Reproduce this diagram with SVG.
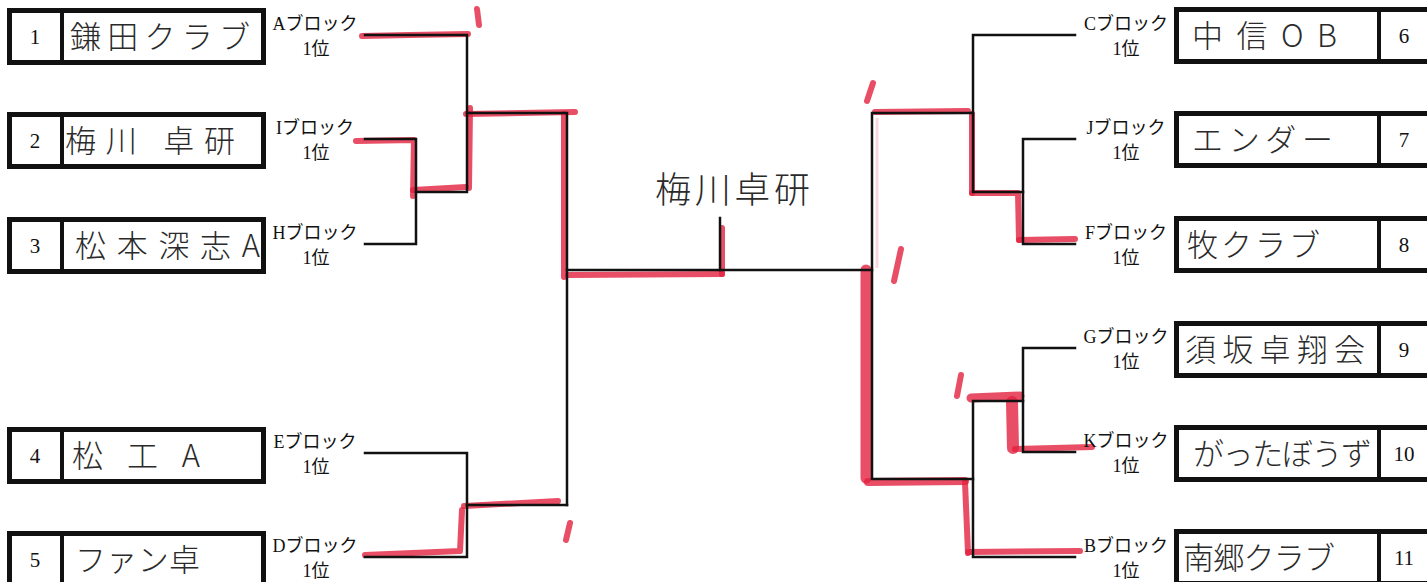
<svg xmlns="http://www.w3.org/2000/svg" width="1427" height="582" viewBox="0 0 1427 582">
<style>
.box{fill:#fff;stroke:#111;stroke-width:5}
.div{stroke:#111;stroke-width:4}
.num{font-family:"Liberation Serif","Noto Sans CJK JP",serif;font-size:21px;fill:#111;text-anchor:middle}
.name{font-family:"Noto Sans CJK JP",sans-serif;font-size:31px;font-weight:300;fill:#2a2a2a}
.lbl{font-family:"Liberation Serif","Noto Sans CJK JP",serif;font-size:18px;fill:#111;text-anchor:middle}
.ln{fill:none;stroke:#111;stroke-width:2.5;stroke-linecap:square}
.red{fill:none;stroke:#e2223e;stroke-opacity:0.8;stroke-width:6;stroke-linecap:round;stroke-linejoin:round}
.pink{fill:none;stroke:#f08aa0;stroke-opacity:0.35;stroke-width:3}
.win{font-family:"Noto Sans CJK JP",sans-serif;font-size:36px;font-weight:300;fill:#2a2a2a}
</style>
<rect width="1427" height="582" fill="#fff"/>

<g id="connectors">
  <path class="red" d="M362,36 L410,35 L468,34"/>
  <path class="red" d="M477,9 L479,25"/>
  <path class="red" d="M356,141 L414,140 L413,196"/>
  <path class="red" d="M413,190 L466,187"/>
  <path class="red" d="M469,188 L470,108"/>
  <path class="red" d="M466,114 L575,112"/>
  <path class="red" d="M564,114 L564,277"/>
  <path class="red" d="M568,275 L722,274"/>
  <path class="red" d="M722,274 L722,228"/>
  <path class="red" d="M365,555 L460,551 L462,510"/>
  <path class="red" d="M464,506 L558,501"/>
  <path class="red" d="M570,523 L566,540"/>

  <path class="red" d="M873,83 L867,101"/>
  <path class="red" d="M875,112 L968,111"/>
  <path class="red" d="M972,114 L972,193"/>
  <path class="red" d="M972,193 L1018,193 L1019,240"/>
  <path class="red" d="M1019,240 L1075,239"/>
  <path class="pink" d="M877,118 L877,268"/>
  <path class="red" d="M901,249 L894,281"/>
  <path class="red" style="stroke-width:11" d="M866,270 L866,478"/>
  <path class="red" style="stroke-width:8" d="M868,482 L965,481"/>
  <path class="red" d="M965,482 L968,553"/>
  <path class="red" d="M968,552 L1080,551"/>
  <path class="red" d="M961,375 L957,396"/>
  <path class="red" style="stroke-width:9" d="M971,398 L1020,396"/>
  <path class="red" style="stroke-width:12" d="M1012,402 L1013,448"/>
  <path class="red" d="M1015,449 L1092,447"/>

  <path class="ln" d="M365,35 H467 V192 H416"/>
  <path class="ln" d="M365,139 H416 V244 H365"/>
  <path class="ln" d="M467,113 H567 V505"/>
  <path class="ln" d="M365,453 H467 V557 H365"/>
  <path class="ln" d="M467,505 H567"/>
  <path class="ln" d="M567,270 H872"/>
  <path class="ln" d="M720,218 V270"/>
  <path class="ln" d="M1075,35 H973 V192 H1023"/>
  <path class="ln" d="M1075,139 H1023 V244 H1075"/>
  <path class="ln" d="M973,113 H872 V479 H973"/>
  <path class="ln" d="M1075,348 H1023 V452 H1075"/>
  <path class="ln" d="M1023,401 H973 V557 H1075"/>
</g>

<g id="winner">
  <text class="win" x="655" y="203" textLength="155" lengthAdjust="spacing">梅川卓研</text>
</g>

<g id="team1">
  <rect class="box" x="9.5" y="10.5" width="254" height="52"/>
  <line class="div" x1="62" y1="10" x2="62" y2="63"/>
  <text class="num" x="35" y="44">1</text>
  <text class="name" x="70" y="48" textLength="180" lengthAdjust="spacing">鎌田クラブ</text>
  <text class="lbl" x="315" y="30">Aブロック</text>
  <text class="lbl" x="316" y="55">1位</text>
</g>
<g id="team2">
  <rect class="box" x="9.5" y="114.5" width="254" height="52"/>
  <line class="div" x1="62" y1="114" x2="62" y2="167"/>
  <text class="num" x="35" y="148">2</text>
  <text class="name" x="65" y="152" textLength="170" lengthAdjust="spacing">梅川 卓研</text>
  <text class="lbl" x="315" y="134">Iブロック</text>
  <text class="lbl" x="316" y="159">1位</text>
</g>
<g id="team3">
  <rect class="box" x="9.5" y="219.5" width="254" height="52"/>
  <line class="div" x1="62" y1="219" x2="62" y2="272"/>
  <text class="num" x="35" y="253">3</text>
  <text class="name" x="75" y="257" textLength="185" lengthAdjust="spacing">松本深志A</text>
  <text class="lbl" x="315" y="239">Hブロック</text>
  <text class="lbl" x="316" y="264">1位</text>
</g>
<g id="team4">
  <rect class="box" x="9.5" y="429.5" width="254" height="52"/>
  <line class="div" x1="62" y1="429" x2="62" y2="482"/>
  <text class="num" x="35" y="463">4</text>
  <text class="name" x="72" y="467" textLength="128" lengthAdjust="spacing">松工A</text>
  <text class="lbl" x="315" y="448">Eブロック</text>
  <text class="lbl" x="316" y="473">1位</text>
</g>
<g id="team5">
  <rect class="box" x="9.5" y="533.5" width="254" height="52"/>
  <line class="div" x1="62" y1="533" x2="62" y2="586"/>
  <text class="num" x="35" y="567">5</text>
  <text class="name" x="75" y="571" textLength="125" lengthAdjust="spacing">ファン卓</text>
  <text class="lbl" x="315" y="552">Dブロック</text>
  <text class="lbl" x="316" y="577">1位</text>
</g>

<g id="team6">
  <rect class="box" x="1176.5" y="9.5" width="260" height="52"/>
  <line class="div" x1="1379" y1="9" x2="1379" y2="62"/>
  <text class="num" x="1404" y="43">6</text>
  <text class="name" x="1192" y="47" textLength="145" lengthAdjust="spacing">中信OB</text>
  <text class="lbl" x="1126" y="30">Cブロック</text>
  <text class="lbl" x="1126" y="55">1位</text>
</g>
<g id="team7">
  <rect class="box" x="1176.5" y="113.5" width="260" height="52"/>
  <line class="div" x1="1379" y1="113" x2="1379" y2="166"/>
  <text class="num" x="1404" y="147">7</text>
  <text class="name" x="1192" y="151" textLength="141" lengthAdjust="spacing">エンダー</text>
  <text class="lbl" x="1126" y="134">Jブロック</text>
  <text class="lbl" x="1126" y="159">1位</text>
</g>
<g id="team8">
  <rect class="box" x="1176.5" y="218.5" width="260" height="52"/>
  <line class="div" x1="1379" y1="218" x2="1379" y2="271"/>
  <text class="num" x="1404" y="252">8</text>
  <text class="name" x="1187" y="256" textLength="133" lengthAdjust="spacing">牧クラブ</text>
  <text class="lbl" x="1126" y="239">Fブロック</text>
  <text class="lbl" x="1126" y="264">1位</text>
</g>
<g id="team9">
  <rect class="box" x="1176.5" y="323.5" width="260" height="52"/>
  <line class="div" x1="1379" y1="323" x2="1379" y2="376"/>
  <text class="num" x="1404" y="357">9</text>
  <text class="name" x="1185" y="361" textLength="180" lengthAdjust="spacing">須坂卓翔会</text>
  <text class="lbl" x="1126" y="343">Gブロック</text>
  <text class="lbl" x="1126" y="368">1位</text>
</g>
<g id="team10">
  <rect class="box" x="1176.5" y="427.5" width="260" height="52"/>
  <line class="div" x1="1379" y1="427" x2="1379" y2="480"/>
  <text class="num" x="1404" y="461">10</text>
  <text class="name" x="1193" y="465" textLength="179" lengthAdjust="spacing">がったぼうず</text>
  <text class="lbl" x="1126" y="447">Kブロック</text>
  <text class="lbl" x="1126" y="472">1位</text>
</g>
<g id="team11">
  <rect class="box" x="1176.5" y="531.5" width="260" height="52"/>
  <line class="div" x1="1379" y1="531" x2="1379" y2="584"/>
  <text class="num" x="1404" y="565">11</text>
  <text class="name" x="1183" y="569" textLength="152" lengthAdjust="spacing">南郷クラブ</text>
  <text class="lbl" x="1126" y="552">Bブロック</text>
  <text class="lbl" x="1126" y="577">1位</text>
</g>
</svg>
